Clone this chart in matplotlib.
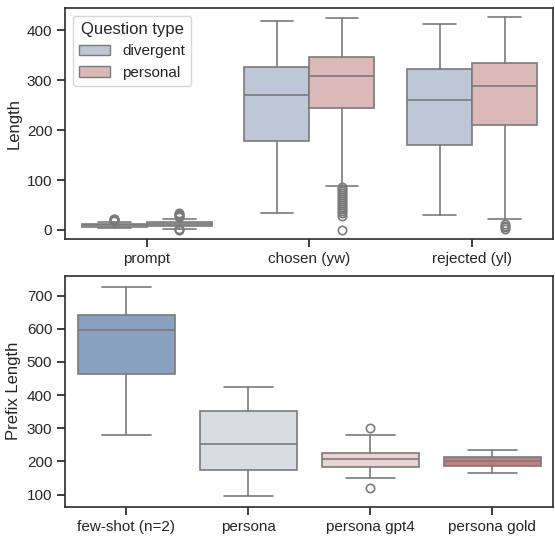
import numpy as np
import matplotlib
matplotlib.use("Agg")
import matplotlib.pyplot as plt
import matplotlib.patches as mpatches
import seaborn as sns

sns.set_theme(style="ticks")
plt.rcParams['font.family'] = ['Liberation Sans', 'DejaVu Sans']

# top panel: response lengths by question type
parts = ['prompt', 'chosen (yw)', 'rejected (yl)']
qtypes = ['divergent', 'personal']
# per part: [whislo, q1, med, q3, whishi]
div_stats = [[3, 6, 9, 12, 16], [33, 179, 271, 326, 420], [30, 171, 261, 322, 412]]
per_stats = [[2, 8, 12, 16, 22], [88, 245, 308, 347, 425], [22, 210, 288, 335, 427]]
div_fliers = [[18, 19, 20, 21, 22], [], []]
per_fliers = [[0, 1, 2, 25, 27, 29, 31, 33],
              [0, 28, 33, 38, 42, 46, 50, 54, 58, 62, 66, 70, 74, 78, 82, 85],
              [2, 5, 8, 12]]

# bottom panel: prefix length per method
methods = ['few-shot (n=2)', 'persona', 'persona gpt4', 'persona gold']
pre_stats = [[280, 465, 596, 643, 725], [95, 175, 254, 353, 424],
             [150, 183, 207, 225, 280], [165, 186, 200, 212, 235]]
pre_fliers = [[], [], [119, 300], []]

top_cols = ['#bec7d6', '#dbb9b9']
bot_cols = ['#8aa2c0', '#d8dbe2', '#ecd3d3', '#c27f7f']
line_c = '#7a7a7a'


def stat(v, fl):
    return dict(whislo=v[0], q1=v[1], med=v[2], q3=v[3], whishi=v[4], fliers=fl)


def draw(ax, stats, pos, width, color):
    ax.bxp(stats, positions=pos, widths=width, patch_artist=True,
           boxprops=dict(facecolor=color, edgecolor=line_c, linewidth=1.2),
           medianprops=dict(color=line_c, linewidth=1.2),
           whiskerprops=dict(color=line_c, linewidth=1.2),
           capprops=dict(color=line_c, linewidth=1.2),
           flierprops=dict(marker='o', markerfacecolor='none', markeredgecolor=line_c,
                           markersize=6, markeredgewidth=1.2))


fig, (ax1, ax2) = plt.subplots(2, 1, figsize=(5.55, 5.36), dpi=100)
fig.subplots_adjust(left=0.118, right=0.997, top=0.985, bottom=0.055, hspace=0.16)

x = np.arange(len(parts))
for i, (st, fl) in enumerate([(div_stats, div_fliers), (per_stats, per_fliers)]):
    off = -0.2 if i == 0 else 0.2
    for j in range(len(parts)):
        draw(ax1, [stat(st[j], fl[j])], [x[j] + off], 0.4, top_cols[i])
ax1.set_xticks(x)
ax1.set_xticklabels(parts)
ax1.set_xlim(-0.5, 2.5)
ax1.set_ylim(-18, 445)
ax1.set_yticks([0, 100, 200, 300, 400])
ax1.set_ylabel('Length')
handles = [mpatches.Patch(facecolor=c, edgecolor=line_c, label=q) for c, q in zip(top_cols, qtypes)]
ax1.legend(handles=handles, title='Question type', loc='upper left')

x2 = np.arange(len(methods))
for j in range(len(methods)):
    draw(ax2, [stat(pre_stats[j], pre_fliers[j])], [x2[j]], 0.8, bot_cols[j])
ax2.set_xticks(x2)
ax2.set_xticklabels(methods)
ax2.set_xlim(-0.5, 3.5)
ax2.set_ylim(64, 760)
ax2.set_yticks([100, 200, 300, 400, 500, 600, 700])
ax2.set_ylabel('Prefix Length')

for ax in (ax1, ax2):
    for s in ax.spines.values():
        s.set_color('#333333')

fig.savefig('out.png', dpi=100)
